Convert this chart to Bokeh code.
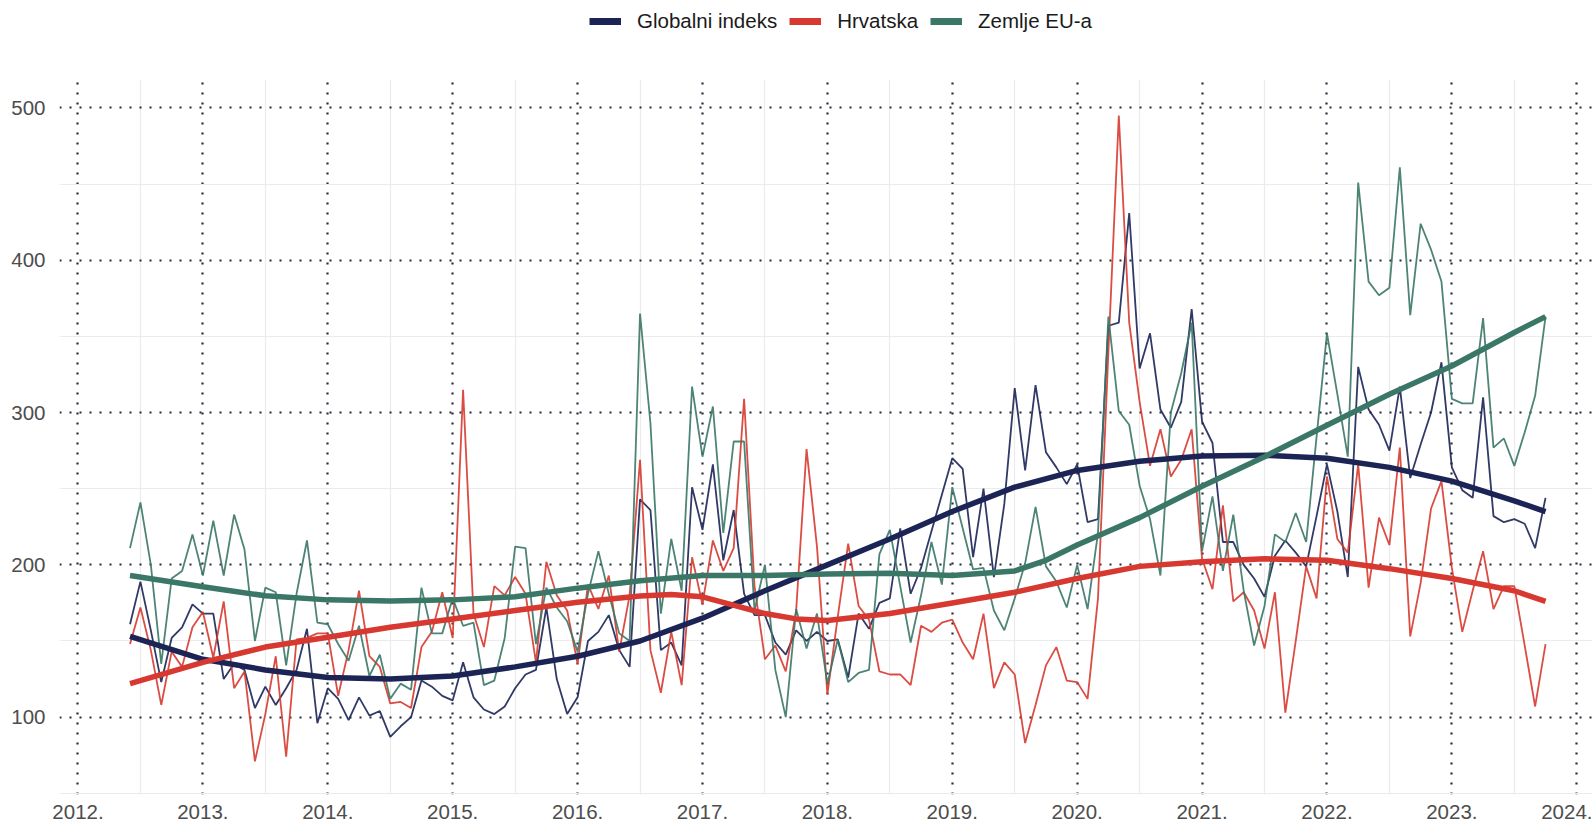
import pandas as pd
from bokeh.plotting import figure
from bokeh.layouts import column
from bokeh.models import Range1d, Legend, LegendItem, FixedTicker
from bokeh.embed import file_html
from bokeh.resources import INLINE

# ---------------- data ----------------
months = pd.date_range("2012-06-01", "2023-10-01", freq="MS")

globalni = [161, 189, 157, 123, 152, 159, 174, 168, 168, 125, 135, 131, 106, 120, 108, 119, 131, 158, 96, 119,
            112, 98, 113, 101, 104, 87, 94, 100, 124, 120, 114, 111, 136, 113, 105, 102, 107, 119, 128, 131,
            172, 125, 102, 113, 150, 156, 167, 144, 133, 243, 236, 144, 149, 134, 251, 223, 266, 203, 236, 181,
            167, 167, 149, 141, 157, 150, 156, 150, 151, 126, 168, 158, 175, 178, 224, 181, 198, 222, 246, 270,
            263, 205, 250, 192, 240, 316, 262, 318, 274, 264, 253, 266, 228, 230, 357, 359, 431, 329, 352, 302,
            290, 307, 368, 294, 280, 215, 215, 200, 191, 179, 206, 216, 208, 199, 232, 266, 235, 192, 330, 302,
            292, 275, 317, 257, 279, 300, 333, 264, 249, 244, 310, 232, 228, 230, 227, 211, 244]

hrvatska = [148, 172, 144, 108, 143, 133, 159, 169, 139, 176, 119, 130, 71, 102, 140, 74, 151, 152, 155, 155,
            114, 144, 183, 140, 133, 109, 110, 106, 146, 156, 182, 152, 315, 168, 146, 186, 180, 192, 181, 136,
            202, 180, 170, 135, 187, 171, 193, 143, 180, 269, 144, 116, 156, 121, 205, 174, 216, 196, 211, 309,
            186, 138, 147, 130, 170, 276, 212, 115, 166, 214, 173, 164, 130, 128, 128, 121, 160, 156, 162, 164,
            149, 138, 168, 119, 136, 128, 83, 108, 134, 146, 124, 123, 112, 178, 340, 495, 359, 307, 265, 289,
            258, 269, 289, 204, 184, 239, 176, 182, 170, 145, 182, 103, 150, 199, 178, 258, 217, 208, 266, 185,
            231, 213, 277, 153, 188, 237, 255, 198, 156, 183, 209, 171, 186, 186, 147, 107, 148]

zemlje_eu = [211, 241, 200, 135, 191, 196, 220, 193, 229, 193, 233, 210, 150, 185, 182, 134, 181, 216, 162, 161,
             148, 137, 160, 127, 141, 112, 122, 118, 185, 155, 155, 178, 160, 162, 121, 124, 152, 212, 211, 148,
             185, 172, 163, 143, 181, 209, 181, 155, 150, 365, 293, 168, 217, 183, 317, 271, 304, 221, 281, 281,
             170, 200, 131, 100, 171, 145, 168, 122, 151, 123, 129, 131, 207, 223, 186, 149, 180, 215, 187, 251,
             224, 197, 198, 170, 157, 178, 201, 238, 199, 189, 172, 200, 171, 221, 363, 301, 292, 252, 230, 193,
             300, 326, 359, 209, 245, 196, 233, 183, 147, 173, 220, 215, 234, 215, 284, 352, 312, 271, 451, 386,
             377, 382, 461, 364, 424, 407, 386, 309, 306, 306, 362, 277, 283, 265, 287, 311, 363]

# trend (smoothed) curves
trend_globalni_dates = ["2012-06", "2013-01", "2013-07", "2014-01", "2014-07", "2015-01", "2015-07", "2016-01",
                        "2016-07", "2017-01", "2017-07", "2018-01", "2018-07", "2019-01", "2019-07", "2020-01",
                        "2020-07", "2021-01", "2021-07", "2022-01", "2022-07", "2023-01", "2023-07", "2023-10"]
trend_globalni = [153, 138, 131, 126, 125, 127, 133, 140, 150, 165, 183, 200, 217, 235, 251, 262,
                  268, 271.5, 272, 270, 264, 255, 242, 235]

trend_hrvatska_dates = ["2012-06", "2013-01", "2013-07", "2014-01", "2014-07", "2015-01", "2015-07", "2016-01",
                        "2016-07", "2016-10", "2017-01", "2017-07", "2017-10", "2018-01", "2018-07", "2019-01",
                        "2019-07", "2020-01", "2020-07", "2021-01", "2021-07", "2022-01", "2022-07", "2023-01",
                        "2023-07", "2023-10"]
trend_hrvatska = [122, 136, 146, 152.5, 159, 164.5, 170, 175.5, 179.5, 180.5, 179, 168, 164.5, 163.5, 168, 175,
                  182, 191, 199, 202, 204, 203, 197.5, 191, 183, 176]

trend_eu_dates = ["2012-06", "2013-01", "2013-07", "2014-01", "2014-07", "2015-01", "2015-07", "2016-01",
                  "2016-07", "2017-01", "2017-07", "2018-01", "2018-07", "2019-01", "2019-07", "2019-10",
                  "2020-01", "2020-07", "2021-01", "2021-07", "2022-01", "2022-07", "2023-01", "2023-07", "2023-10"]
trend_eu = [193, 185.6, 179.7, 177, 176.3, 177, 179, 184.7, 189.5, 193, 193, 194, 194.5, 193, 196, 203,
            213, 231, 251.6, 271, 291.7, 312, 330.6, 352.6, 363]

series_names = ["Globalni indeks", "Hrvatska", "Zemlje EU-a"]

years = list(range(2012, 2025))
y_ticks = [100, 200, 300, 400, 500]
y_minor = [50, 150, 250, 350, 450]


def dec_year(d):
    d = pd.Timestamp(d)
    return d.year + (d.month - 1) / 12.0


x = [dec_year(d) for d in months]
raw_series = [globalni, hrvatska, zemlje_eu]
trend_x = [[dec_year(d) for d in dts] for dts in (trend_globalni_dates, trend_hrvatska_dates, trend_eu_dates)]
trend_y = [trend_globalni, trend_hrvatska, trend_eu]

NAVY = "#1b2455"
RED = "#d7382f"
GREEN = "#3a7767"
COLORS = [NAVY, RED, GREEN]
FONT = "Liberation Sans"
FONT_SIZE = "20.5px"
X_RANGE = (2011.852, 2024.126)

# ---------------- main chart ----------------
p = figure(width=1592, height=745, output_backend="svg", toolbar_location=None,
           x_range=Range1d(*X_RANGE), y_range=Range1d(49.2, 518.7),
           min_border_left=59, min_border_right=0, min_border_top=0, min_border_bottom=30)
p.outline_line_color = None
p.background_fill_color = "white"

p.xaxis.ticker = FixedTicker(ticks=years, minor_ticks=[yy + 0.5 for yy in range(2011, 2025)])
p.yaxis.ticker = FixedTicker(ticks=y_ticks, minor_ticks=y_minor)
for g in (p.xgrid, p.ygrid):
    g.grid_line_color = "#262a3b"
    g.grid_line_width = 2.2
    g.grid_line_dash = "2 8"
    g.minor_grid_line_color = "#ebebeb"
    g.minor_grid_line_width = 1.2

p.xaxis.major_label_overrides = {yy: f"{yy}." for yy in years}

for ax in (p.xaxis, p.yaxis):
    ax.axis_line_color = None
    ax.major_tick_line_color = None
    ax.minor_tick_line_color = None
    ax.major_tick_out = 0
    ax.major_tick_in = 0
    ax.major_label_text_font = FONT
    ax.major_label_text_font_size = FONT_SIZE
    ax.major_label_text_color = "#4d4d4d"
p.xaxis.major_label_standoff = 6
p.yaxis.major_label_standoff = 10

# raw monthly lines
for vals, col in zip(raw_series, COLORS):
    p.line(x, vals, line_color=col, line_width=1.8, line_alpha=0.9)

# trend lines
for tx, ty, col in zip(trend_x, trend_y, COLORS):
    p.line(tx, ty, line_color=col, line_width=5.5)

# ---------------- legend strip on top (its lines fall outside the strip's view) ----------------
lg = figure(width=1592, height=79, output_backend="svg", toolbar_location=None,
            x_range=Range1d(*X_RANGE), y_range=Range1d(1000, 1001),
            x_axis_location=None, y_axis_location=None,
            min_border_left=0, min_border_right=0, min_border_top=0, min_border_bottom=0)
lg.outline_line_color = None
lg.grid.visible = False
items = []
for name, tx, ty, col in zip(series_names, trend_x, trend_y, COLORS):
    r = lg.line(tx, ty, line_color=col, line_width=7)
    items.append(LegendItem(label=name, renderers=[r]))

# column() aligns the frames, so the legend position is relative to x = 59
legend = Legend(items=items, orientation="horizontal", location=(530, 46))
legend.border_line_color = None
legend.background_fill_alpha = 0
legend.padding = 0
legend.margin = 0
legend.spacing = 12
legend.label_standoff = 16
legend.glyph_width = 32
legend.glyph_height = 22
legend.label_height = 22
legend.label_text_font = FONT
legend.label_text_font_size = FONT_SIZE
legend.label_text_color = "#1a1a1a"
lg.add_layout(legend)

layout = column(lg, p, spacing=0)
open("out.html", "w").write(file_html(layout, INLINE))
